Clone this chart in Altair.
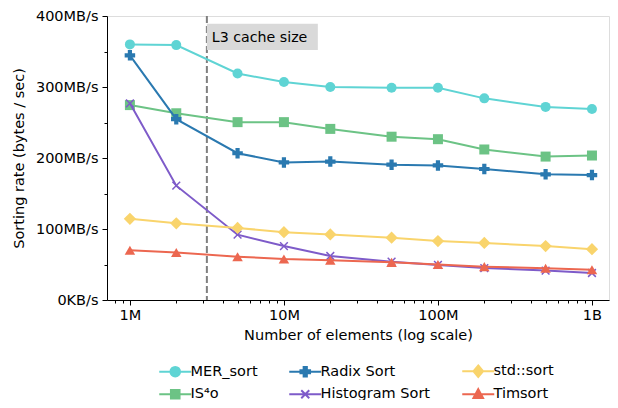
import altair as alt
import pandas as pd

# ---- data ----
sizes = [1e6, 2e6, 5e6, 1e7, 2e7, 5e7, 1e8, 2e8, 5e8, 1e9]
mer_sort = [360, 359, 319, 307, 300, 299, 299, 284, 272, 269]
is4o = [274.5, 263, 250.5, 250.5, 241, 230, 226.5, 212, 202, 203.5]
radix_sort = [344.6, 254.7, 206.7, 193.8, 195, 190.6, 189.6, 184.5, 177, 176]
histogram_sort = [277, 161, 92, 76, 62, 54, 49.4, 45, 41.5, 38]
std_sort = [114.4, 108, 101.5, 95.5, 92.3, 87.7, 83, 80.3, 76, 71.5]
timsort = [70, 67, 61, 57.7, 56, 53, 50, 47, 44.7, 42.5]

names = ["MER_sort", "IS⁴o", "Radix Sort", "Histogram Sort", "std::sort", "Timsort"]
series = [mer_sort, is4o, radix_sort, histogram_sort, std_sort, timsort]
colors = ["#5fd4d4", "#6cc385", "#2a79b0", "#7e5bc9", "#f9d46c", "#ec6750"]
point_shapes = ["circle", "square", "cross",
                "M-1,-1L1,1M-1,1L1,-1", "diamond", "triangle-up"]
# legend glyphs: a line segment with the marker on top (unit = 5 px)
legend_paths = {
    "MER_sort": "M-3.2,0H3.2M0.96,0A0.96,0.96,0,1,1,-0.96,0A0.96,0.96,0,1,1,0.96,0Z",
    "IS⁴o": "M-3.2,0H3.2M-0.86,-0.86H0.86V0.86H-0.86Z",
    "Radix Sort": "M-3.2,0H3.2M-0.32,-0.96H0.32V-0.32H0.96V0.32H0.32V0.96H-0.32V0.32H-0.96V-0.32H-0.32Z",
    "Histogram Sort": "M-3.2,0H3.2M-0.8,-0.8L0.8,0.8M-0.8,0.8L0.8,-0.8",
    "std::sort": "M-3.2,0H3.2M0,-1.15L0.96,0L0,1.15L-0.96,0Z",
    "Timsort": "M-3.2,0H3.2M0,-1.02L0.96,0.77H-0.96Z",
}

x_ticks = [1e6, 1e7, 1e8, 1e9]
x_labels = ["1M", "10M", "100M", "1B"]
x_domain = [7.1e5, 1.29e9]
x_minor = [m * 10 ** e for e in range(5, 9) for m in range(2, 10)
           if x_domain[0] <= m * 10 ** e <= x_domain[1]]
y_ticks = [0, 100, 200, 300, 400]
y_labels = ["0KB/s", "100MB/s", "200MB/s", "300MB/s", "400MB/s"]
y_minor = [50, 150, 250, 350]

cache_x = [3.16e6]
cache_box_x2 = [1.66e7]
cache_box_y = [352]
cache_box_y2 = [389]
cache_label = ["L3 cache size"]

rows = []
for name, vals in zip(names, series):
    for s, v in zip(sizes, vals):
        rows.append({"n": s, "rate": v, "algo": name})
df = pd.DataFrame(rows)

ann = pd.DataFrame({"x": cache_x, "x2": cache_box_x2, "y": cache_box_y,
                    "y2": cache_box_y2, "label": cache_label})

FONT = "DejaVu Sans"
FS = 14.5
PLOT_H = 284
x_scale = alt.Scale(type="log", domain=x_domain, nice=False)
y_scale = alt.Scale(domain=[0, 400], nice=False)


def label_expr(vals, labels):
    parts = " : ".join(f"datum.value == {v} ? '{l}'" for v, l in zip(vals, labels))
    return parts + " : ''"


major_x = alt.Axis(values=x_ticks, labelExpr=label_expr(x_ticks, x_labels),
                   title="Number of elements (log scale)", grid=False, orient="bottom",
                   tickSize=5, tickColor="black", domainColor="black", labelColor="black",
                   titleColor="black", labelFontSize=FS, titleFontSize=FS,
                   titleFontWeight="normal", labelFont=FONT, titleFont=FONT,
                   labelPadding=3, titlePadding=7, labelFlush=False)
major_y = alt.Axis(values=y_ticks, labelExpr=label_expr(y_ticks, y_labels),
                   title="Sorting rate (bytes / sec)", grid=False, orient="left",
                   tickSize=5, tickColor="black", domainColor="black", labelColor="black",
                   titleColor="black", labelFontSize=FS, titleFontSize=FS,
                   titleFontWeight="normal", labelFont=FONT, titleFont=FONT,
                   labelPadding=4, titlePadding=9, labelFlush=False)
minor_x = alt.Axis(values=x_minor, labels=False, title=None, grid=False, orient="bottom",
                   tickSize=3, tickColor="black", domain=False)
minor_y = alt.Axis(values=y_minor, labels=False, title=None, grid=False, orient="left",
                   tickSize=3, tickColor="black", domain=False)

# axis carrier (invisible) so the main axes are defined once
axes_layer = alt.Chart(df).mark_point(opacity=0, size=1).encode(
    x=alt.X("n:Q", scale=x_scale, axis=major_x),
    y=alt.Y("rate:Q", scale=y_scale, axis=major_y),
)

rule = alt.Chart(ann).mark_rule(color="#7f7f7f", strokeWidth=2, strokeDash=[7, 3]).encode(
    x=alt.X("x:Q", scale=x_scale, axis=minor_x),
    y=alt.value(0),
    y2=alt.value(PLOT_H),
)

box = alt.Chart(ann).mark_rect(color="#d9d9d9").encode(
    x=alt.X("x:Q", scale=x_scale, axis=None),
    x2="x2:Q",
    y=alt.Y("y:Q", scale=y_scale, axis=minor_y),
    y2="y2:Q",
)
box_text = alt.Chart(ann).mark_text(align="left", baseline="middle", dx=5, dy=1,
                                    font=FONT, fontSize=14.2, color="black").encode(
    x=alt.X("x:Q", scale=x_scale, axis=None),
    y=alt.Y("mid:Q", scale=y_scale, axis=None),
    text="label:N",
).transform_calculate(mid="(datum.y + datum.y2) / 2")

series_layers = []
for name, shp, col in zip(names, point_shapes, colors):
    base = alt.Chart(df).transform_filter(alt.datum.algo == name)
    enc = dict(x=alt.X("n:Q", scale=x_scale, axis=None),
               y=alt.Y("rate:Q", scale=y_scale, axis=None))
    line = base.mark_line(strokeWidth=2, color=col).encode(**enc)
    if name == "Histogram Sort":
        pts = base.mark_point(filled=False, shape=shp, size=60, color=col,
                              strokeWidth=1.5, opacity=1).encode(**enc)
    else:
        size = {"circle": 100, "square": 100, "cross": 110, "diamond": 150,
                "triangle-up": 110}[shp]
        pts = base.mark_point(filled=True, shape=shp, size=size, color=col,
                              opacity=1).encode(**enc)
    series_layers += [line, pts]

legend_spec = alt.Legend(title=None, orient="none", legendX=61, legendY=348,
                         columns=3, symbolSize=100, symbolStrokeWidth=2,
                         labelFont=FONT, labelFontSize=FS, labelColor="black",
                         labelOffset=8, columnPadding=27, rowPadding=4,
                         padding=0, symbolOpacity=1)
leg_fill = alt.Scale(domain=names, range=colors)
leg_shape = alt.Scale(domain=names, range=[legend_paths[n] for n in names])

legend_layer = alt.Chart(df).mark_point(filled=True, opacity=1).transform_filter(
    "false"
).encode(
    x=alt.X("n:Q", scale=x_scale, axis=None),
    y=alt.Y("rate:Q", scale=y_scale, axis=None),
    fill=alt.Fill("algo:N", scale=leg_fill, legend=legend_spec),
    stroke=alt.Stroke("algo:N", scale=leg_fill, legend=legend_spec),
    shape=alt.Shape("algo:N", scale=leg_shape, legend=legend_spec),
)

chart = alt.layer(
    axes_layer, rule, box, box_text, *series_layers, legend_layer
).resolve_axis(
    x="independent", y="independent"
).properties(
    width=502, height=PLOT_H,
    padding={"left": 99, "top": 8, "right": 1, "bottom": 100},
    autosize=alt.AutoSizeParams(type="none"),
).configure_view(
    stroke="black", strokeWidth=1
).configure(background="white")

chart.save("out.html", embed_options={"renderer": "svg", "actions": False})
